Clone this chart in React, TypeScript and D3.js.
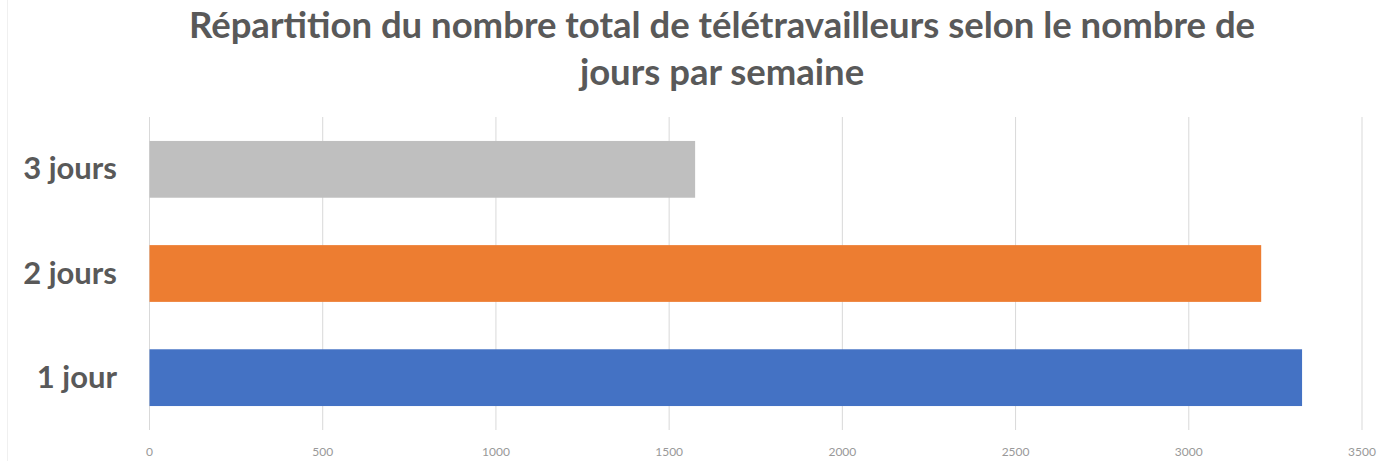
import React from "react";
import * as d3 from "d3";

const categories = ["3 jours", "2 jours", "1 jour"];
const values = [1575, 3209, 3327];
const colors = ["#BFBFBF", "#ED7D31", "#4472C4"];
const ticks = [0, 500, 1000, 1500, 2000, 2500, 3000, 3500];
const titleLines = [
  "Répartition du nombre total de télétravailleurs selon le nombre de",
  "jours par semaine",
];

export default function App() {
  const W = 1383, H = 461;
  const x = d3.scaleLinear().domain([0, 3500]).range([149.5, 1362]);
  const y = d3.scaleBand().domain(categories).range([117, 430]).paddingInner(0.455).paddingOuter(0.23);
  const font = "Lato, 'Open Sans', sans-serif";
  return (
    <svg width={W} height={H} style={{ position: "absolute", left: 0, top: 0, background: "#fff" }}>
      <rect x={0} y={0} width={W} height={H} fill="#fff" />
      <line x1={7.5} x2={7.5} y1={0} y2={H} stroke="#F0F0F0" strokeWidth={1} />
      {titleLines.map((t, i) => (
        <text key={i} x={722} y={38 + i * 47} textAnchor="middle" fontFamily={font} fontWeight={700} fontSize={36.5} fill="#595959">
          {t}
        </text>
      ))}
      {ticks.map((t) => (
        <g key={t}>
          <line x1={x(t)} x2={x(t)} y1={117} y2={430} stroke="#D9D9D9" strokeWidth={1} />
          <text x={x(t)} y={456} textAnchor="middle" fontFamily={font} fontSize={12} fill="#999999">
            {t}
          </text>
        </g>
      ))}
      {categories.map((c, i) => (
        <g key={c}>
          <rect x={x(0)} y={y(c)} width={x(values[i]) - x(0)} height={y.bandwidth()} fill={colors[i]} />
          <text x={117} y={(y(c) as number) + y.bandwidth() / 2 + 10} textAnchor="end" fontFamily={font} fontWeight={700} fontSize={31} fill="#595959">
            {c}
          </text>
        </g>
      ))}
    </svg>
  );
}
